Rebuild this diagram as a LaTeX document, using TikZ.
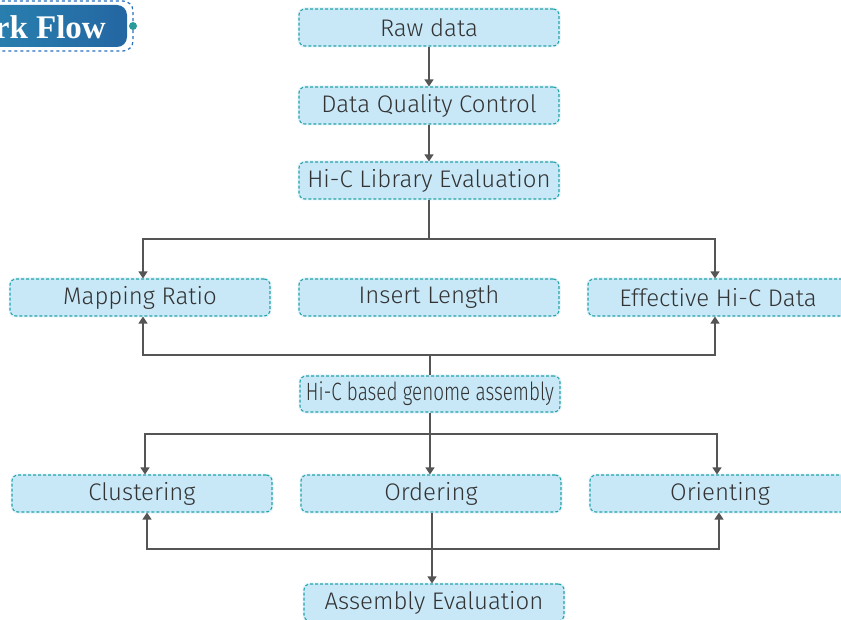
\documentclass[tikz,border=0pt]{standalone}
\usepackage{fontspec}
\setmainfont{Fira Sans}[UprightFont=* Light]
\newfontfamily\titlefont{Liberation Serif}
\usetikzlibrary{arrows.meta,calc}
\definecolor{boxfill}{HTML}{C8E8F8}
\definecolor{boxline}{HTML}{25A5A8}
\definecolor{arrcol}{HTML}{555555}
\definecolor{txt}{HTML}{333333}
\definecolor{tleft}{HTML}{2A86B2}
\definecolor{tright}{HTML}{2466A2}
\definecolor{tborder}{HTML}{2A70C0}
\definecolor{tdot}{HTML}{2A9A9A}
\begin{document}
\begin{tikzpicture}[x=1pt,y=-1pt,
  stepbox/.style={draw=boxline,dash pattern=on 3pt off 2pt,line width=1.1pt,fill=boxfill,rounded corners=6pt,
    preaction={draw=boxfill!50,solid,line width=3pt},
    minimum width=260pt,minimum height=37pt,inner sep=0pt,text=txt,font=\fontsize{24}{26}\selectfont},
  arr/.style={draw=arrcol,line width=1.2pt,-{Triangle[width=9pt,length=7pt]}},
  ln/.style={draw=arrcol,line width=1.2pt}]
\useasboundingbox (0,0) rectangle (841,620);
% title
\draw[tborder,dashed,line width=1.2pt,rounded corners=10pt] (-40,1) rectangle (133,51);
\shade[left color=tleft,right color=tright,rounded corners=10pt] (-40,5) rectangle (127,47);
\node[anchor=east,text=white,font=\titlefont\bfseries\fontsize{33}{35}\selectfont,inner sep=0pt] (title) at (106,27) {Work Flow};
\fill[tdot] (133,26) circle (4);
% nodes
\node[stepbox] (raw) at (429,27.5) {Raw data};
\node[stepbox] (dqc) at (429,105.5) {Data Quality Control};
\node[stepbox] (hic) at (429,180.5) {Hi-C Library Evaluation};
\node[stepbox] (map) at (140,297.5) {Mapping Ratio};
\node[stepbox] (ins) at (429,297.5) {Insert Length};
\node[stepbox] (eff) at (718,297.5) {Effective Hi-C Data};
\node[stepbox,minimum height=36pt] (hcb) at (430,394) {\resizebox{248pt}{\height}{\fontsize{25}{26}\selectfont Hi-C based genome assembly}};
\node[stepbox] (clu) at (142,493.5) {Clustering};
\node[stepbox] (ord) at (431,493.5) {Ordering};
\node[stepbox] (ori) at (720,493.5) {Orienting};
\node[stepbox] (asm) at (434,602.5) {Assembly Evaluation};
% connectors
\coordinate (b1) at (429,239);
\coordinate (b2) at (430,355);
\coordinate (b3) at (430,434);
\coordinate (b4) at (432,549);
\draw[arr] (raw) -- (dqc);
\draw[arr] (dqc) -- (hic);
\draw[ln] (hic.south) -- (b1);
\draw[arr] (b1) -| ([xshift=3pt]map.north);
\draw[arr] (b1) -| ([xshift=-3pt]eff.north);
\draw[ln] (hcb.north) -- (b2);
\draw[arr] (b2) -| ([xshift=3pt]map.south);
\draw[arr] (b2) -| ([xshift=-3pt]eff.south);
\draw[ln] (hcb.south) -- (b3);
\draw[arr] (b3) -| ([xshift=3pt]clu.north);
\draw[arr] (b3) -| (ord.north -| b3);
\draw[arr] (b3) -| ([xshift=-3pt]ori.north);
\draw[arr] (ord.south -| b4) -- (b4 |- asm.north);
\draw[arr] (b4) -| ([xshift=5pt]clu.south);
\draw[arr] (b4) -| ([xshift=-1pt]ori.south);
\end{tikzpicture}
\end{document}
